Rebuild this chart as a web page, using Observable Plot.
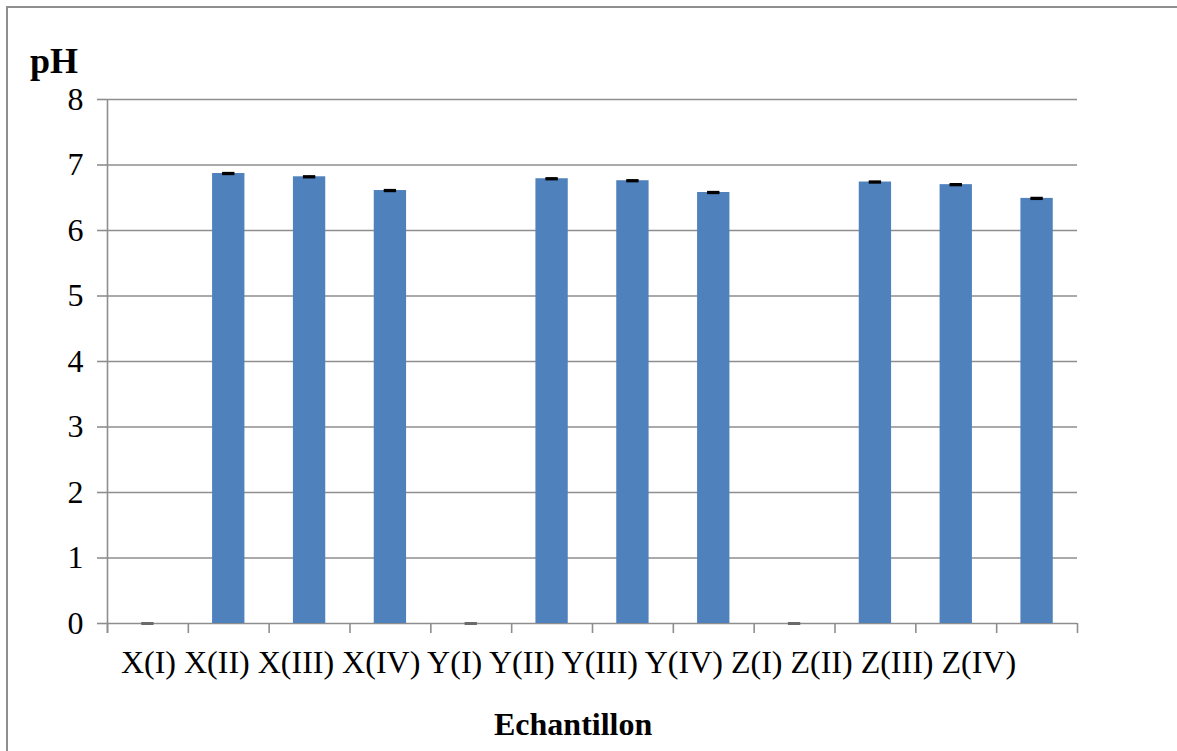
<!DOCTYPE html>
<html><head><meta charset="utf-8">
<script src="https://cdn.jsdelivr.net/npm/d3@7"></script>
<script src="https://cdn.jsdelivr.net/npm/@observablehq/plot@0.6"></script>
<style>
body{margin:0;background:#fff;}
#wrap{position:relative;width:1177px;height:751px;overflow:hidden;font-family:"Liberation Serif","Times New Roman",serif;color:#000;}
#chart{position:absolute;left:0;top:0;}
#frame{position:absolute;left:6px;top:6px;width:1300px;height:900px;border-left:2px solid #8e8e8e;border-top:2px solid #8e8e8e;pointer-events:none;}
.ylab{position:absolute;left:30px;top:43px;font-weight:bold;font-size:36px;line-height:1;white-space:nowrap;}
.xlab{position:absolute;left:494px;top:708px;font-weight:bold;font-size:32px;line-height:1;white-space:nowrap;}
</style></head><body>
<div id="wrap"><div id="chart"></div><div id="frame"></div><div class="ylab" id="ylab"></div><div class="xlab" id="xlab"></div></div>
<script>
const categories = ["X(I)", "X(II)", "X(III)", "X(IV)", "Y(I)", "Y(II)", "Y(III)", "Y(IV)", "Z(I)", "Z(II)", "Z(III)", "Z(IV)"];
const pHValues = [0, 6.87, 6.82, 6.61, 0, 6.79, 6.76, 6.58, 0, 6.74, 6.70, 6.49];
const errors = [0, 0.01, 0.01, 0.01, 0, 0.01, 0.01, 0.01, 0, 0.01, 0.01, 0.01];
const yTicks = [0, 1, 2, 3, 4, 5, 6, 7, 8];
const yLabel = "pH";
const xLabel = "Echantillon";

document.getElementById("ylab").textContent = yLabel;
document.getElementById("xlab").textContent = xLabel;

const rows = categories.map((c, i) => ({cat: c, value: pHValues[i], err: errors[i]}));
const nonzero = rows.filter(d => d.value > 0);
const zero = rows.filter(d => d.value === 0);

const W = 1177, H = 751, mL = 107, mR = 100, mT = 99, mB = 128;
const step = (W - mL - mR) / categories.length;
const grid = "#8e8e8e";
const capInset = 10;

const chart = Plot.plot({
  width: W, height: H,
  marginLeft: mL, marginRight: mR, marginTop: mT, marginBottom: mB,
  style: {fontFamily: "'Liberation Serif','Times New Roman',serif", fontSize: "32px", background: "transparent", color: "#000"},
  x: {domain: categories, paddingInner: 0.6, paddingOuter: 0.3, round: false, axis: null},
  y: {domain: [0, 8], axis: null},
  marks: [
    Plot.gridY(yTicks, {stroke: grid, strokeOpacity: 1, strokeWidth: 1.6}),
    Plot.axisY(yTicks, {tickSize: 10, tickPadding: 14, stroke: grid, strokeWidth: 1.6, fontSize: 32, label: null, tickFormat: d => String(d)}),
    Plot.barY(rows, {x: "cat", y: "value", fill: "#4f81bd"}),
    Plot.ruleX(categories, {x: d => d, dx: -step / 2, y1: 0, y2: 0, insetBottom: -10, stroke: grid, strokeWidth: 1.6}),
    Plot.ruleX([categories[categories.length - 1]], {x: d => d, dx: step / 2, y1: 0, y2: 0, insetBottom: -10, stroke: grid, strokeWidth: 1.6}),
    Plot.ruleX([categories[0]], {x: d => d, dx: -step / 2, y1: 8, y2: 0, insetBottom: -10, stroke: grid, strokeWidth: 1.6}),
    Plot.ruleX(nonzero, {x: "cat", y1: d => d.value - d.err, y2: d => d.value + d.err, stroke: "#000", strokeWidth: 1.5}),
    Plot.tickY(nonzero, {x: "cat", y: d => d.value + d.err, insetLeft: capInset, insetRight: capInset, stroke: "#000", strokeWidth: 2}),
    Plot.tickY(nonzero, {x: "cat", y: d => d.value - d.err, insetLeft: capInset, insetRight: capInset, stroke: "#000", strokeWidth: 2}),
    Plot.tickY(zero, {x: "cat", y: "value", insetLeft: capInset, insetRight: capInset, stroke: "#6a6a6a", strokeWidth: 3}),
    Plot.text([categories.join(" ")], {x: () => categories[0], y: () => 0, dx: -27, dy: 49, text: d => d, textAnchor: "start", lineAnchor: "bottom", fontSize: 32, fill: "#000"})
  ]
});
document.getElementById("chart").appendChild(chart);
</script>
</body></html>
